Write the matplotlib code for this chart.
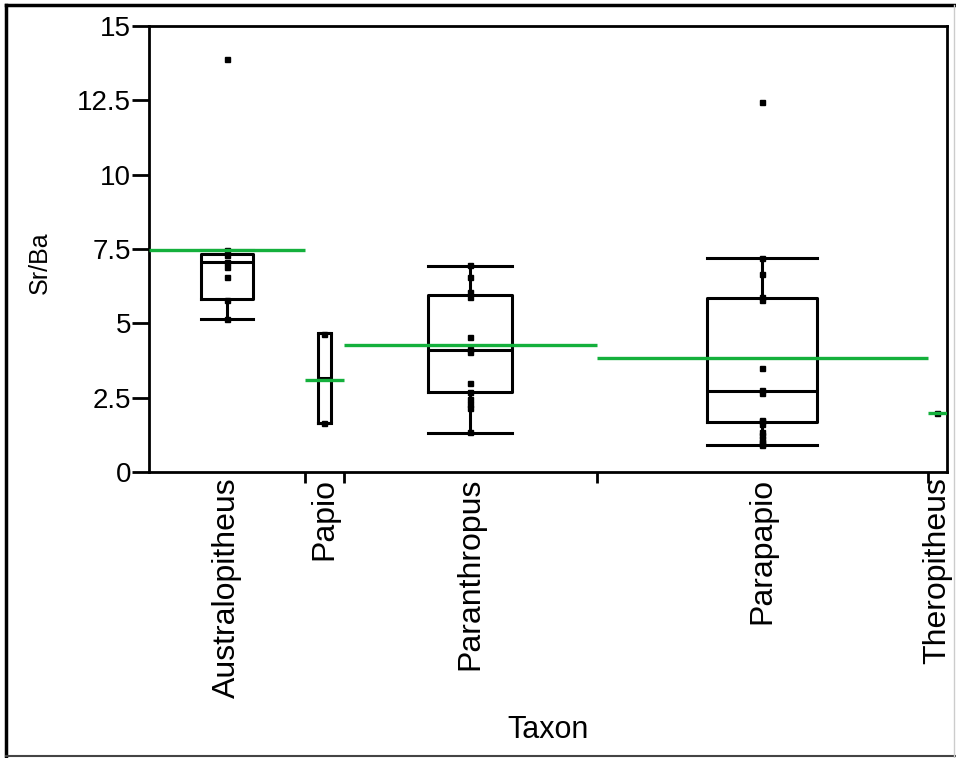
import matplotlib
matplotlib.use("Agg")
import matplotlib.pyplot as plt
import numpy as np
from matplotlib.lines import Line2D

plt.rcParams['font.family'] = ['Liberation Sans', 'DejaVu Sans']

# Data
taxa = ["Australopitheus", "Papio", "Paranthropus", "Parapapio", "Theropitheus"]
counts = [8, 2, 13, 17, 1]

aus_vals = [13.9, 7.45, 7.3, 7.05, 6.9, 6.55, 5.8, 5.15]
papio_vals = [4.65, 1.65]
paranth_vals = [6.95, 6.55, 6.05, 5.9, 4.55, 4.15, 4.05, 3.0, 2.7, 2.45, 2.3, 2.15, 1.35]
parapapio_vals = [12.45, 7.2, 6.65, 5.9, 5.8, 3.5, 2.75, 2.65, 1.75, 1.7, 1.6,
                  1.35, 1.25, 1.1, 1.0, 0.95, 0.9]
thero_vals = [2.0]

means = [7.45, 3.1, 4.28, 3.82, 1.98]

# box summaries (q1, median, q3, lower whisker, upper whisker)
box_q1 = [5.82, 1.65, 2.7, 1.69]
box_med = [7.07, 3.16, 4.1, 2.72]
box_q3 = [7.32, 4.67, 5.95, 5.84]
box_lo = [5.15, 1.65, 1.32, 0.91]
box_hi = [7.45, 4.67, 6.94, 7.21]

yticks = [0, 2.5, 5, 7.5, 10, 12.5, 15]
ytick_labels = ["0", "2.5", "5", "7.5", "10", "12.5", "15"]

# group positions: width proportional to count
edges = np.concatenate([[0], np.cumsum(counts)])
centers = (edges[:-1] + edges[1:]) / 2
widths = np.array(counts) / 3.0

fig = plt.figure(figsize=(9.56, 7.58), dpi=100)
ax = fig.add_axes([149 / 956, 1 - 472 / 758, (947 - 149) / 956, (472 - 26) / 758])

# boxes
stats = []
for i in range(4):
    stats.append(dict(med=box_med[i], q1=box_q1[i], q3=box_q3[i],
                      whislo=box_lo[i], whishi=box_hi[i], fliers=[]))
lp = dict(color="black", linewidth=2.2)
ax.bxp(stats, positions=centers[:4], widths=widths[:4], capwidths=widths[:4],
       showfliers=False, boxprops=lp, whiskerprops=lp, capprops=lp,
       medianprops=lp, manage_ticks=False)

# points
all_vals = [aus_vals, papio_vals, paranth_vals, parapapio_vals, thero_vals]
for c, vals in zip(centers, all_vals):
    ax.plot([c] * len(vals), vals, "s", color="black", markersize=3.6, zorder=4)

# mean lines
for i, m in enumerate(means):
    ax.plot([edges[i], edges[i + 1]], [m, m], color="#14b03c", linewidth=2.4,
            solid_capstyle="butt", zorder=5)

ax.set_xlim(0, edges[-1])
ax.set_ylim(0, 15)
ax.set_yticks(yticks)
ax.set_yticklabels(ytick_labels)

ax.set_xticks(edges[1:-1])
ax.set_xticklabels([])
ax.set_xticks(centers, minor=True)
ax.set_xticklabels(taxa, minor=True, rotation=90, va="top", ha="center")
ax.tick_params(axis="x", which="minor", length=0, pad=4, labelsize=23)
ax.tick_params(axis="x", which="major", length=8, width=2, direction="out")
ax.tick_params(axis="y", length=12, width=2, pad=1, labelsize=20)

for s in ax.spines.values():
    s.set_linewidth(2)

ax.set_ylabel("Sr/Ba", fontsize=18)
ax.yaxis.set_label_coords(-0.122, 0.47)
ax.set_xlabel("Taxon", fontsize=22)
ax.xaxis.set_label_coords(0.5, -0.545)

# outer frame around the figure
W, H = 956, 758
def fl(x0, y0, x1, y1, color, lw):
    fig.add_artist(Line2D([x0 / W, x1 / W], [1 - y0 / H, 1 - y1 / H],
                          transform=fig.transFigure, color=color, linewidth=lw))
fl(6, 5, 955, 5, "black", 2.5)
fl(6, 5, 6, 757, "black", 2.5)
fl(6, 756, 955, 756, "#444444", 1.5)
fl(954, 5, 954, 757, "#cccccc", 1.0)

fig.savefig("out.png", dpi=100)
